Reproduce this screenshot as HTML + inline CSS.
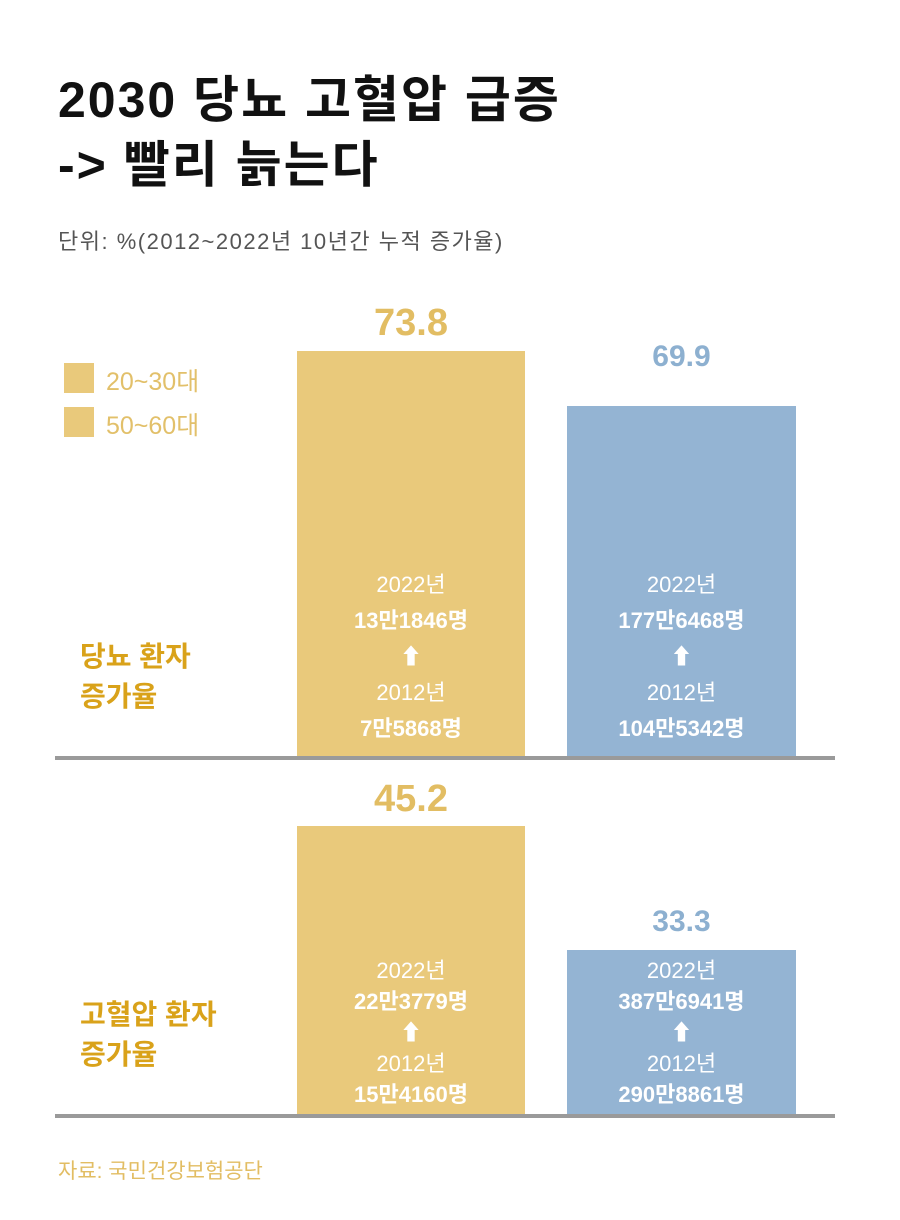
<!DOCTYPE html>
<html><head><meta charset="utf-8"><style>
body{margin:0;width:900px;height:1220px;background:#fff;position:relative;overflow:hidden;font-family:"Liberation Sans","Noto Sans CJK KR",sans-serif}
.a{position:absolute;white-space:nowrap}
.t{font-size:50px;font-weight:bold;color:#111;left:58px;letter-spacing:2px;line-height:60px}
.g{background:#e9c97b}.b{background:#94b4d3}
.bar{position:absolute}
.in{position:absolute;width:100%;text-align:center;color:#fff;font-size:22px;line-height:36px}
.in.s{line-height:31px}
.in b{font-weight:bold}
.line{position:absolute;left:55px;width:780px;height:4px;background:#9a9a9a}
.lab{color:#d9a21a;font-size:28px;font-weight:bold;line-height:40px;left:80px}
.v{font-size:34px;font-weight:bold;text-align:center}
</style></head><body>
<div class="a t" style="top:70px">2030 당뇨 고혈압 급증</div>
<div class="a t" style="top:135px">-&gt; 빨리 늙는다</div>
<div class="a" style="left:58px;top:224px;font-size:22px;color:#555;letter-spacing:1.5px">단위: %(2012~2022년 10년간 누적 증가율)</div>
<div class="a g" style="left:64px;top:363px;width:30px;height:30px"></div>
<div class="a" style="left:106px;top:362px;font-size:25px;color:#e2c06a">20~30대</div>
<div class="a g" style="left:64px;top:407px;width:30px;height:30px"></div>
<div class="a" style="left:106px;top:406px;font-size:25px;color:#e2c06a">50~60대</div>

<div class="a v" style="left:297px;width:228px;top:302px;color:#e2bd63;font-size:38px">73.8</div>
<div class="bar g" style="left:297px;top:351px;width:228px;height:406px"><div class="in" style="top:216px">2022년<br><b>13만1846명</b><br>⬆<br>2012년<br><b>7만5868명</b></div></div>
<div class="a v" style="left:567px;width:229px;top:340px;color:#8db0d0;font-size:30px">69.9</div>
<div class="bar b" style="left:567px;top:406px;width:229px;height:351px"><div class="in" style="top:161px">2022년<br><b>177만6468명</b><br>⬆<br>2012년<br><b>104만5342명</b></div></div>
<div class="line" style="top:756px"></div>
<div class="a lab" style="top:637px">당뇨 환자<br>증가율</div>

<div class="a v" style="left:297px;width:228px;top:778px;color:#e2bd63;font-size:38px">45.2</div>
<div class="bar g" style="left:297px;top:826px;width:228px;height:289px"><div class="in s" style="top:129px">2022년<br><b>22만3779명</b><br>⬆<br>2012년<br><b>15만4160명</b></div></div>
<div class="a v" style="left:567px;width:229px;top:905px;color:#8db0d0;font-size:30px">33.3</div>
<div class="bar b" style="left:567px;top:950px;width:229px;height:165px"><div class="in s" style="top:5px">2022년<br><b>387만6941명</b><br>⬆<br>2012년<br><b>290만8861명</b></div></div>
<div class="line" style="top:1114px"></div>
<div class="a lab" style="top:995px">고혈압 환자<br>증가율</div>

<div class="a" style="left:58px;top:1155px;font-size:21px;color:#e2bd63">자료: 국민건강보험공단</div>
</body></html>
